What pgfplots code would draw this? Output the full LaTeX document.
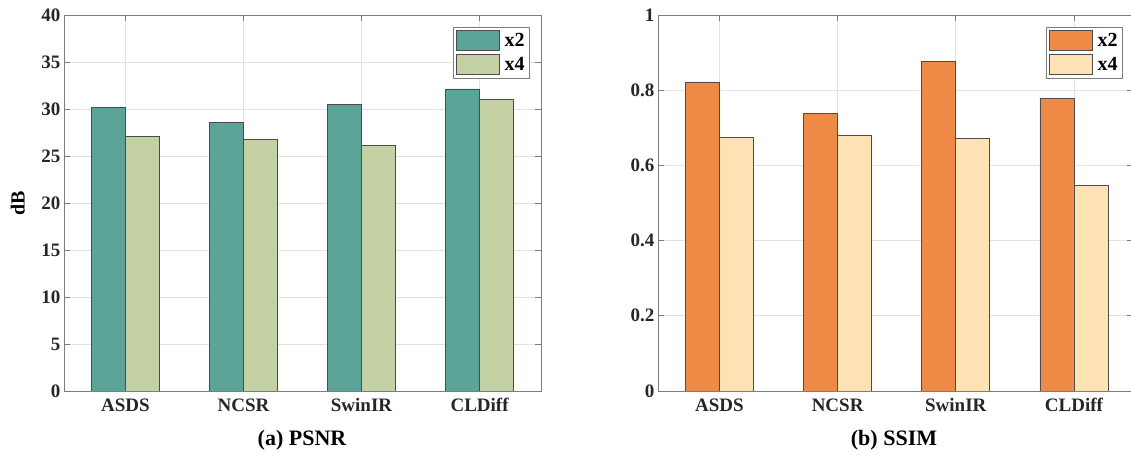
\documentclass[border=0pt]{standalone}
\usepackage{pgfplots}
\pgfplotsset{compat=1.18}
\usepackage{fontspec}
\setmainfont{Liberation Serif}
\definecolor{tealA}{RGB}{91,164,151}
\definecolor{greenB}{RGB}{195,209,164}
\definecolor{orangeA}{RGB}{238,138,70}
\definecolor{creamB}{RGB}{253,226,180}
\definecolor{axgray}{RGB}{125,125,125}
\definecolor{gridgray}{RGB}{226,226,226}
\pgfplotsset{
  common/.style={
    scale only axis,
    ybar, bar width=34pt,
    axis line style={axgray, line width=0.8pt},
    tick style={axgray, line width=0.6pt},
    major tick length=6pt,
    tick align=inside, tick pos=both,
    xmajorgrids, ymajorgrids,
    grid style={gridgray, line width=0.6pt},
    xtick={1,2,3,4},
    xticklabels={ASDS,NCSR,SwinIR,CLDiff},
    ymin=0,
    /pgf/number format/assume math mode=true,
    ticklabel style={font=\bfseries\fontsize{19}{19}\selectfont, text=black!85},
    xticklabel style={yshift=-4pt},
    legend style={draw=axgray, line width=0.6pt, inner sep=3pt, row sep=3pt,
      font=\bfseries\fontsize{20}{20}\selectfont, anchor=north east,
      legend cell align=left},
    legend image code/.code={\draw[#1, line width=0.8pt] (0pt,-10pt) rectangle (43pt,10pt); \path (46pt,0pt);},
  },
  barA/.style={draw=black!70, line width=0.8pt, bar shift=-17pt},
  barB/.style={draw=black!70, line width=0.8pt, bar shift=17pt},
}
\begin{document}
\begin{tikzpicture}[x=1pt,y=1pt]
\useasboundingbox (0,0) rectangle (1131,462);
\begin{axis}[common,
  at={(64pt,71pt)}, anchor=south west,
  width=477pt, height=376pt,
  xmin=0.48, xmax=4.52,
  ymax=40, ytick={0,5,...,40},
  ylabel={dB},
  ylabel style={at={(axis description cs:-0.097,0.5)}, anchor=center, font=\bfseries\fontsize{20}{20}\selectfont},
  legend style={at={(0.977,0.968)}},
]
\addplot[barA, fill=tealA] coordinates {(1,30.2) (2,28.55) (3,30.53) (4,32.13)};
\addplot[barB, fill=greenB] coordinates {(1,27.05) (2,26.77) (3,26.13) (4,31.06)};
\legend{x2,x4}
\end{axis}
\begin{axis}[common,
  at={(658pt,71pt)}, anchor=south west,
  width=475pt, height=376pt,
  xmin=0.48, xmax=4.5,
  ymax=1, ytick={0,0.2,...,1.0},
  yticklabel style={/pgf/number format/fixed},
  legend style={at={(0.979,0.968)}},
]
\addplot[barA, fill=orangeA] coordinates {(1,0.822) (2,0.737) (3,0.876) (4,0.778)};
\addplot[barB, fill=creamB] coordinates {(1,0.674) (2,0.681) (3,0.671) (4,0.546)};
\legend{x2,x4}
\end{axis}
\node[font=\bfseries\fontsize{22}{22}\selectfont] at (302,22) {(a) PSNR};
\node[font=\bfseries\fontsize{22}{22}\selectfont] at (894,22) {(b) SSIM};
\end{tikzpicture}
\end{document}
